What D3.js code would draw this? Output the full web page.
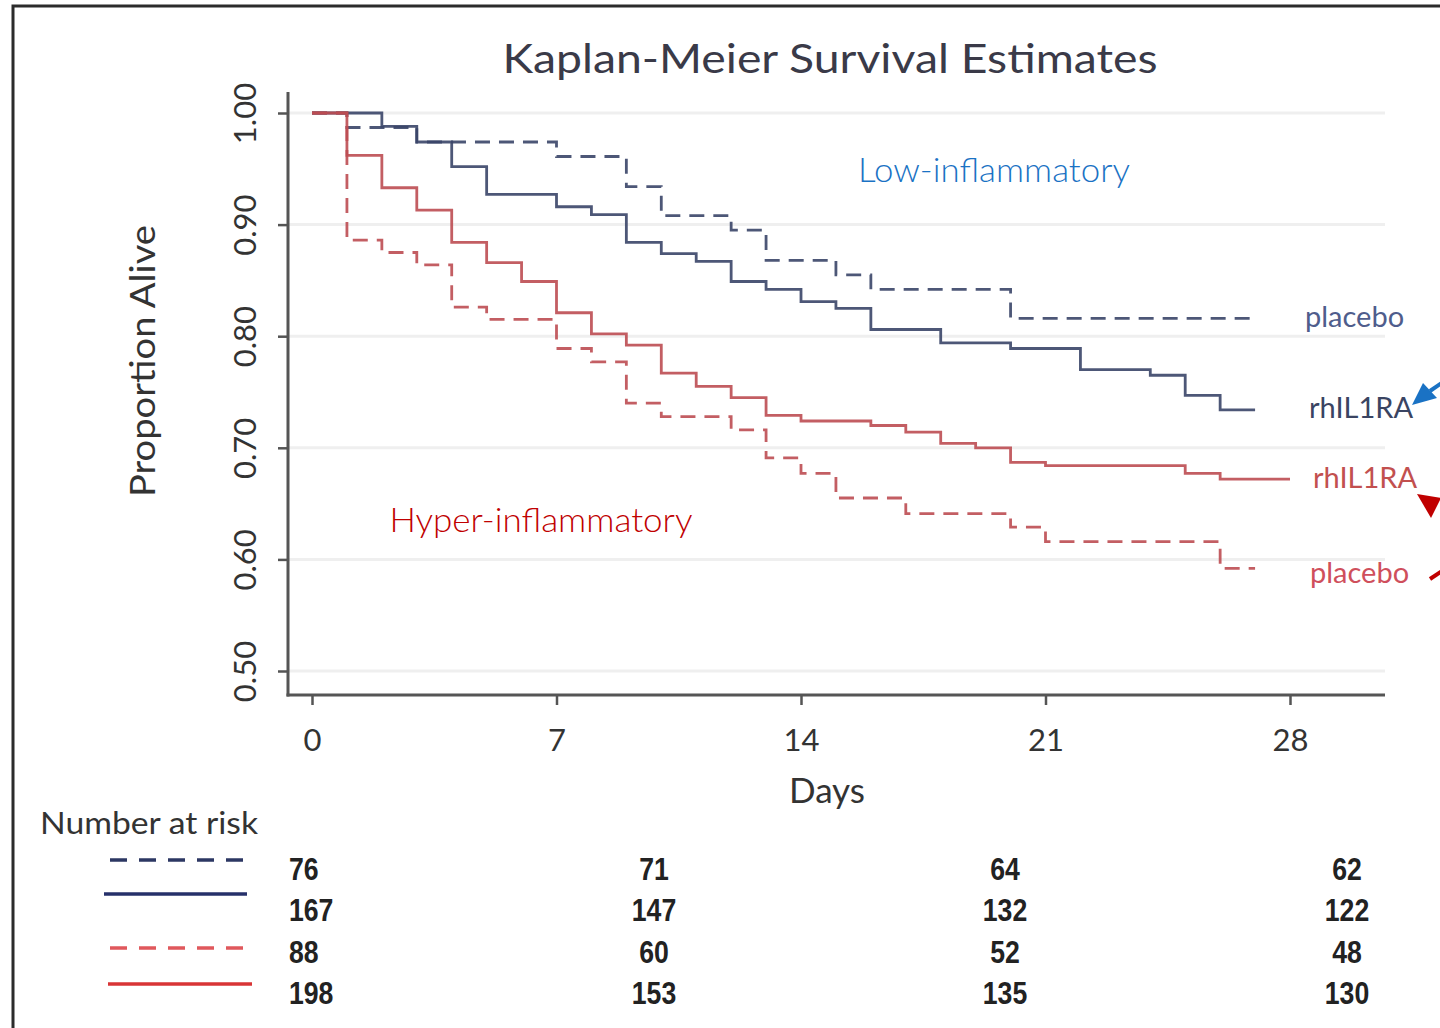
<!DOCTYPE html>
<html>
<head>
<meta charset="utf-8">
<script src="https://cdn.jsdelivr.net/npm/d3@7"></script>
<style>
  body { margin: 0; background: #fff; }
  svg { display: block; }
</style>
</head>
<body>
<svg width="1440" height="1028"></svg>
<script>
// survival curves (day, proportion alive)
const lowPlaceboDays = [0, 1, 3, 7, 9, 10, 12, 13, 15, 16, 20, 27];
const lowPlaceboSurv = [1, 0.987, 0.974, 0.961, 0.934, 0.908, 0.895, 0.868, 0.855, 0.842, 0.816, 0.816];

const lowDrugDays = [0, 2, 3, 4, 5, 7, 8, 9, 10, 11, 12, 13, 14, 15, 16, 18, 20, 22, 24, 25, 26, 27];
const lowDrugSurv = [1, 0.988, 0.974, 0.952, 0.927, 0.916, 0.909, 0.884, 0.874, 0.867, 0.849, 0.842, 0.831, 0.825, 0.806, 0.794, 0.789, 0.770, 0.765, 0.747, 0.734, 0.734];

const hyperDrugDays = [0, 1, 2, 3, 4, 5, 6, 7, 8, 9, 10, 11, 12, 13, 14, 16, 17, 18, 19, 20, 21, 25, 26, 28];
const hyperDrugSurv = [1, 0.962, 0.933, 0.913, 0.884, 0.866, 0.849, 0.821, 0.802, 0.792, 0.767, 0.755, 0.745, 0.729, 0.724, 0.720, 0.714, 0.704, 0.700, 0.687, 0.684, 0.677, 0.672, 0.672];

const hyperPlaceboDays = [0, 1, 2, 3, 4, 5, 7, 8, 9, 10, 12, 13, 14, 15, 17, 20, 21, 26, 27];
const hyperPlaceboSurv = [1, 0.886, 0.875, 0.864, 0.826, 0.815, 0.789, 0.777, 0.740, 0.728, 0.716, 0.691, 0.677, 0.655, 0.641, 0.629, 0.616, 0.592, 0.592];

const xTicks = [0, 7, 14, 21, 28];
const yTicks = [0.5, 0.6, 0.7, 0.8, 0.9, 1.0];

// number at risk table, one row per curve, one column per x tick
const riskLowPlacebo = [76, 71, 64, 62];
const riskLowDrug = [167, 147, 132, 122];
const riskHyperPlacebo = [88, 60, 52, 48];
const riskHyperDrug = [198, 153, 135, 130];

const endLabels = ["placebo", "rhIL1RA", "rhIL1RA", "placebo"];

const blue = "#3a4568", red = "#bd4d52";
const font = "Lato, 'Open Sans', sans-serif";

const svg = d3.select("svg");

// frame
svg.append("rect")
    .attr("x", 13).attr("y", 6)
    .attr("width", 1460).attr("height", 1040)
    .attr("fill", "#fff")
    .attr("stroke", "#2b2b2b").attr("stroke-width", 3);

const x = d3.scaleLinear().domain([0, 28]).range([312, 1290]);
const y = d3.scaleLinear().domain([0.5, 1]).range([671, 113]);

const axisX = 288, axisY = 695;

// faint grid
svg.append("g").selectAll("line")
    .data(yTicks)
    .join("line")
    .attr("x1", axisX).attr("x2", 1385)
    .attr("y1", d => y(d)).attr("y2", d => y(d))
    .attr("stroke", "#efefef").attr("stroke-width", 3);

// y axis
const gy = svg.append("g")
    .attr("transform", `translate(${axisX},0)`)
    .call(d3.axisLeft(y).tickValues(yTicks).tickSize(10).tickFormat(d3.format(".2f")));
gy.select(".domain").remove();
gy.selectAll(".tick line").attr("stroke", "#555").attr("stroke-width", 2.5);
gy.selectAll(".tick text")
    .attr("font-family", font).attr("font-size", 31).attr("fill", "#333")
    .attr("x", null).attr("dy", null)
    .attr("text-anchor", "middle")
    .attr("transform", "translate(-32,0) rotate(-90)");
svg.append("line")
    .attr("x1", axisX).attr("x2", axisX).attr("y1", 92).attr("y2", axisY + 1.5)
    .attr("stroke", "#555").attr("stroke-width", 3);

// x axis
const gx = svg.append("g")
    .attr("transform", `translate(0,${axisY})`)
    .call(d3.axisBottom(x).tickValues(xTicks).tickSize(10));
gx.select(".domain").remove();
gx.selectAll(".tick line").attr("stroke", "#555").attr("stroke-width", 2.5);
gx.selectAll(".tick text")
    .attr("font-family", font).attr("font-size", 31).attr("fill", "#333")
    .attr("y", 34).attr("dy", "0.71em");
svg.append("line")
    .attr("x1", axisX - 1.5).attr("x2", 1385).attr("y1", axisY).attr("y2", axisY)
    .attr("stroke", "#555").attr("stroke-width", 3);

// curves
const curves = [
    {days: lowPlaceboDays, surv: lowPlaceboSurv, color: blue, dash: "15,9"},
    {days: lowDrugDays, surv: lowDrugSurv, color: blue, dash: null},
    {days: hyperDrugDays, surv: hyperDrugSurv, color: red, dash: null},
    {days: hyperPlaceboDays, surv: hyperPlaceboSurv, color: red, dash: "15,9"}
];

const line = d3.line()
    .x(d => x(d[0]))
    .y(d => y(d[1]))
    .curve(d3.curveStepAfter);

svg.append("g").selectAll("path")
    .data(curves)
    .join("path")
    .attr("d", c => line(c.days.map((d, i) => [d, c.surv[i]])))
    .attr("fill", "none")
    .attr("stroke", c => c.color)
    .attr("stroke-width", 2.8)
    .attr("stroke-dasharray", c => c.dash)
    .attr("opacity", 0.9);

// end labels
const endLabelPos = [
    {x: 1305, y: 327, color: "#4f5d8c"},
    {x: 1309, y: 418, color: "#3a4462"},
    {x: 1313, y: 488, color: "#c2504f"},
    {x: 1310, y: 583, color: "#cf4f5c"}
];
svg.append("g").selectAll("text")
    .data(endLabels)
    .join("text")
    .attr("x", (d, i) => endLabelPos[i].x)
    .attr("y", (d, i) => endLabelPos[i].y)
    .attr("fill", (d, i) => endLabelPos[i].color)
    .attr("font-family", font).attr("font-size", 29)
    .text(d => d);

// arrows at the right edge
svg.append("polygon").attr("points", "1412,405 1423,383 1437,398").attr("fill", "#1a72c4");
svg.append("line").attr("x1", 1430).attr("y1", 391).attr("x2", 1446).attr("y2", 380)
    .attr("stroke", "#1a72c4").attr("stroke-width", 4);
svg.append("polygon").attr("points", "1417,494 1441,498 1431,518").attr("fill", "#c00000");
svg.append("line").attr("x1", 1430).attr("y1", 579).attr("x2", 1442).attr("y2", 571)
    .attr("stroke", "#c00000").attr("stroke-width", 4);

// titles
svg.append("text")
    .attr("x", 830).attr("y", 73)
    .attr("text-anchor", "middle")
    .attr("font-family", font).attr("font-size", 40).attr("fill", "#3a3a48")
    .attr("textLength", 655).attr("lengthAdjust", "spacingAndGlyphs")
    .text("Kaplan-Meier Survival Estimates");

svg.append("text")
    .attr("transform", "translate(155,361) rotate(-90)")
    .attr("text-anchor", "middle")
    .attr("font-family", font).attr("font-size", 34).attr("fill", "#333")
    .attr("textLength", 272).attr("lengthAdjust", "spacingAndGlyphs")
    .text("Proportion Alive");

svg.append("text")
    .attr("x", 827).attr("y", 803)
    .attr("text-anchor", "middle")
    .attr("font-family", font).attr("font-size", 35).attr("fill", "#333")
    .text("Days");

svg.append("text")
    .attr("x", 994).attr("y", 182)
    .attr("text-anchor", "middle")
    .attr("font-family", font).attr("font-weight", 300).attr("font-size", 34).attr("fill", "#1a72c4")
    .attr("textLength", 272).attr("lengthAdjust", "spacingAndGlyphs")
    .text("Low-inflammatory");

svg.append("text")
    .attr("x", 541).attr("y", 532)
    .attr("text-anchor", "middle")
    .attr("font-family", font).attr("font-weight", 300).attr("font-size", 34).attr("fill", "#c00000")
    .attr("textLength", 303).attr("lengthAdjust", "spacingAndGlyphs")
    .text("Hyper-inflammatory");

// number at risk
svg.append("text")
    .attr("x", 40).attr("y", 834)
    .attr("font-family", font).attr("font-size", 31).attr("fill", "#333")
    .attr("textLength", 218).attr("lengthAdjust", "spacingAndGlyphs")
    .text("Number at risk");

const riskRows = [
    {vals: riskLowPlacebo, color: "#2c3763", dash: "17,12", x1: 110, x2: 255, ly: 860},
    {vals: riskLowDrug, color: "#26306a", dash: null, x1: 104, x2: 247, ly: 894},
    {vals: riskHyperPlacebo, color: "#e0585c", dash: "17,12", x1: 110, x2: 255, ly: 948},
    {vals: riskHyperDrug, color: "#d83436", dash: null, x1: 108, x2: 252, ly: 984}
];
const rowY = d3.scalePoint().domain(d3.range(riskRows.length)).range([880, 1004]);
const colX = [289, 654, 1005, 1347];

svg.append("g").selectAll("line")
    .data(riskRows)
    .join("line")
    .attr("x1", d => d.x1).attr("x2", d => d.x2)
    .attr("y1", d => d.ly).attr("y2", d => d.ly)
    .attr("stroke", d => d.color).attr("stroke-width", 3.5)
    .attr("stroke-dasharray", d => d.dash);

const rowsG = svg.append("g").selectAll("g")
    .data(riskRows)
    .join("g")
    .attr("transform", (d, i) => `translate(0,${rowY(i)})`);

rowsG.selectAll("text")
    .data(d => d.vals)
    .join("text")
    .attr("x", (d, j) => colX[j])
    .attr("text-anchor", (d, j) => j === 0 ? "start" : "middle")
    .attr("font-family", "'Liberation Sans', Arial, sans-serif")
    .attr("font-weight", "bold").attr("font-size", 32).attr("fill", "#222")
    .attr("textLength", d => String(d).length * 14.8)
    .attr("lengthAdjust", "spacingAndGlyphs")
    .text(d => d);
</script>
</body>
</html>
